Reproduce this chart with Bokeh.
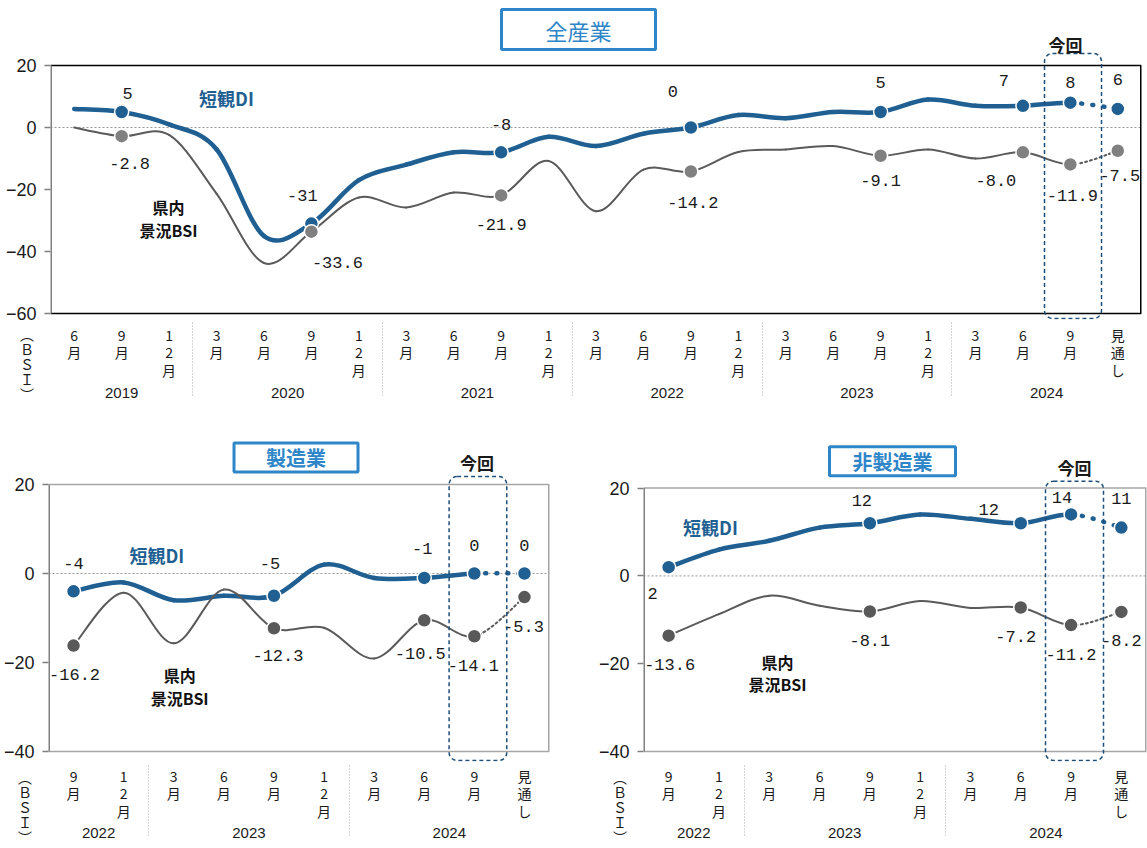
from bokeh.plotting import figure
from bokeh.models import (FactorRange, Range1d, FixedTicker, Label, LabelSet,
                          BoxAnnotation, ColumnDataSource, Div)
from bokeh.layouts import column, row
from bokeh.embed import file_html
from bokeh.resources import INLINE
from bokeh.core.properties import value

# ---------------- data ----------------
TOP_YEARS = ["2019"] * 3 + ["2020"] * 4 + ["2021"] * 4 + ["2022"] * 4 + ["2023"] * 4 + ["2024"] * 4
TOP_MONTHS = ["6月", "9月", "12月",
              "3月", "6月", "9月", "12月",
              "3月", "6月", "9月", "12月",
              "3月", "6月", "9月", "12月",
              "3月", "6月", "9月", "12月",
              "3月", "6月", "9月", "見通し"]
TOP_TANKAN = [6, 5, 1, -7, -35, -31, -17, -12, -8, -8, -3, -6, -2, 0, 4, 3, 5, 5, 9, 7, 7, 8, 6]
TOP_BSI = [0.0, -2.8, -2.4, -21.3, -43.7, -33.6, -22.6, -25.8, -21.0, -21.9, -10.8, -27.0,
           -13.6, -14.2, -7.9, -7.1, -6.0, -9.1, -7.1, -10.0, -8.0, -11.9, -7.5]
TOP_MARKED = [1, 5, 9, 13, 17, 20, 21, 22]

SUB_YEARS = ["2022"] * 2 + ["2023"] * 4 + ["2024"] * 4
SUB_MONTHS = ["9月", "12月", "3月", "6月", "9月", "12月", "3月", "6月", "9月", "見通し"]
MFG_TANKAN = [-4, -2, -6, -5, -5, 2, -1, -1, 0, 0]
MFG_BSI = [-16.2, -4.3, -15.7, -3.6, -12.3, -12.2, -19.1, -10.5, -14.1, -5.3]
NON_TANKAN = [2, 6, 8, 11, 12, 14, 13, 12, 14, 11]
NON_BSI = [-13.6, -8.7, -4.5, -6.8, -8.1, -5.7, -7.3, -7.2, -11.2, -8.2]
SUB_MARKED = [0, 4, 7, 8, 9]

TITLES = ["全産業", "製造業", "非製造業"]
NAME_TANKAN = "短観DI"
NAME_BSI = "県内\n景況BSI"
NOW_TEXT = "今回"
UNIT_TEXT = "（ＢＳＩ）"

# ---------------- styles / positions (page pixels) ----------------
BLUE = "#1F5F92"
TITLE_BLUE = "#2E86C8"
GRAY_LINE = "#5A5A5A"
BOX_COL = "#1F4E79"
TXT = "#1A1A1A"

# L,R,T,B: visible plot box; FB: bottom of the drawing area (room for the dashed box)
TOP_P = dict(ox=0, oy=0, w=1147, h=420, L=50, R=1141, T=65, B=313, FB=319, ylo=-60, yhi=20)
BL_P = dict(ox=0, oy=420, w=595, h=428, L=45, R=549, T=484, B=751, FB=761, ylo=-40, yhi=20)
BR_P = dict(ox=595, oy=420, w=552, h=428, L=643, R=1146, T=488, B=753, FB=763, ylo=-40, yhi=20)

TOP_T_OFF = ([6, -9, 0, -18, 0, -19, 0, 0], [-19, -28, -28, -36, -30, -25, -20, -29])
TOP_B_OFF = ([8, 26, 0, 2, 0, -27, 2, 2], [27, 31, 29, 31, 25, 28, 31, 25])
MFG_T_OFF = ([0, -4, -2, 0, 0], [-28, -32, -29, -28, -28])
MFG_B_OFF = ([1, 4, -4, -1, -1], [29, 27, 33, 29, 29])
NON_T_OFF = ([-16, -8, -32, -9, 0], [26, -23, -14, -17, -29])
NON_B_OFF = ([1, 0, -5, 0, 0], [29, 29, 29, 29, 29])

TOP_LOOK = dict(frame="#000000", xline="#000000", bsi_mark="#808080", xstand=5,
                title_xy=(578, 29), title_size="22px", title_style="normal", title_pad=(44, 4),
                now_xy=(1065, 44), box=(1044, 1101, 53, 318),
                tankan_xy=(226, 97), bsi_xy=(168, 218), unit_xy=(22, 361))
BL_LOOK = dict(frame="#A6A6A6", xline="#A6A6A6", bsi_mark="#595959", xstand=4,
               title_xy=(294, 457), title_size="20px", title_style="bold", title_pad=(32, 0),
               now_xy=(476, 462), box=(448, 506, 476, 760),
               tankan_xy=(154, 554), bsi_xy=(177, 686), unit_xy=(20, 804))
BR_LOOK = dict(frame="#A6A6A6", xline="#A6A6A6", bsi_mark="#595959", xstand=4,
               title_xy=(892, 461), title_size="20px", title_style="bold", title_pad=(23, 0),
               now_xy=(1074, 467), box=(1045, 1103, 481, 762),
               tankan_xy=(710, 527), bsi_xy=(777, 674), unit_xy=(615, 804))


def vert(s):
    return "\n".join(s)


def ppu(P):
    return (P["B"] - P["T"]) / (P["yhi"] - P["ylo"])


def to_x(P, X):
    return (X - P["L"]) / (P["R"] - P["L"]) * P["n"]


def to_y(P, Y):
    return P["yhi"] - (Y - P["T"]) / ppu(P)


def smooth(xs, ys):
    n = len(xs)
    seg = {k: [] for k in ("x0", "y0", "x1", "y1", "cx0", "cy0", "cx1", "cy1")}
    for i in range(n - 1):
        a, d = max(i - 1, 0), min(i + 2, n - 1)
        seg["x0"].append(xs[i]); seg["y0"].append(ys[i])
        seg["x1"].append(xs[i + 1]); seg["y1"].append(ys[i + 1])
        seg["cx0"].append(xs[i] + (xs[i + 1] - xs[a]) / 6)
        seg["cy0"].append(ys[i] + (ys[i + 1] - ys[a]) / 6)
        seg["cx1"].append(xs[i + 1] - (xs[d] - xs[i]) / 6)
        seg["cy1"].append(ys[i + 1] - (ys[d] - ys[i]) / 6)
    return seg


def draw_series(p, xs, ys, color, width, dot_dash):
    seg = smooth(xs, ys)
    solid = ColumnDataSource({k: v[:-1] for k, v in seg.items()})
    dotted = ColumnDataSource({k: v[-1:] for k, v in seg.items()})
    kw = dict(x0="x0", y0="y0", x1="x1", y1="y1", cx0="cx0", cy0="cy0", cx1="cx1", cy1="cy1")
    p.bezier(source=solid, line_color=color, line_width=width, line_cap="round", **kw)
    p.bezier(source=dotted, line_color=color, line_width=width, line_cap="round",
             line_dash=dot_dash, **kw)


def labels(p, xs, ys, texts, off):
    src = ColumnDataSource(dict(x=xs, y=ys, text=texts, xo=off[0], yo=[-d for d in off[1]]))
    p.add_layout(LabelSet(x="x", y="y", text="text", x_offset="xo", y_offset="yo", source=src,
                          text_align="center", text_baseline="middle",
                          text_font=value("Liberation Mono"), text_font_size="17px",
                          text_color=TXT))


def panel(P, years, months, tankan, bsi, marked, t_off, b_off, yticks, title, look):
    n = len(months)
    P = dict(P, n=n)
    k = ppu(P)
    y_end = P["yhi"] + (P["T"] - P["oy"]) / k
    y_start = P["ylo"] - (P["FB"] - P["B"]) / k
    factors = [(y, vert(m)) for y, m in zip(years, months)]
    p = figure(width=P["w"], height=P["h"],
               x_range=FactorRange(factors=factors, factor_padding=0, group_padding=0,
                                   range_padding=0),
               y_range=Range1d(y_start, y_end),
               output_backend="svg", toolbar_location=None, title=None,
               min_border_left=P["L"] - P["ox"], min_border_right=P["ox"] + P["w"] - P["R"],
               min_border_top=0, min_border_bottom=P["oy"] + P["h"] - P["FB"])
    p.xgrid.visible = False
    p.ygrid.visible = False
    p.outline_line_color = None
    p.background_fill_color = "white"
    p.border_fill_color = "white"

    ya = p.yaxis[0]
    ya.ticker = FixedTicker(ticks=yticks)
    ya.axis_line_color = None
    ya.major_tick_line_color = "#808080"
    ya.major_tick_line_width = 1.5
    ya.major_tick_out = 6
    ya.major_tick_in = 0
    ya.minor_tick_line_color = None
    ya.major_label_standoff = 8
    ya.major_label_text_font = "Liberation Sans"
    ya.major_label_text_font_size = "18px"
    ya.major_label_text_color = TXT

    xa = p.xaxis[0]
    xa.axis_line_color = None
    xa.major_tick_line_color = None
    xa.major_tick_out = 0
    xa.major_tick_in = 0
    xa.minor_tick_line_color = None
    xa.major_label_standoff = look["xstand"]
    xa.major_label_text_font = "Noto Sans CJK JP"
    xa.major_label_text_font_size = "14px"
    xa.major_label_text_line_height = 0.89
    xa.major_label_text_color = TXT
    xa.group_text_font = "Liberation Sans"
    xa.group_text_font_size = "15px"
    xa.group_text_font_style = "normal"
    xa.group_text_color = TXT
    xa.separator_line_color = "#A6A6A6"
    xa.separator_line_width = 1
    xa.separator_line_dash = "1 2"

    ylo, yhi = P["ylo"], P["yhi"]
    # plot box lines
    p.segment([0], [0], [n], [0], line_color="#999999", line_width=1, line_dash="2 2")
    p.segment([0], [yhi], [n], [yhi], line_color=look["frame"], line_width=1.5)
    p.segment([0], [ylo], [n], [ylo], line_color=look["xline"], line_width=1.5)
    p.segment([n], [ylo], [n], [yhi], line_color=look["frame"], line_width=3)
    p.segment([0], [ylo], [0], [yhi], line_color="#808080", line_width=3)

    xs = [i + 0.5 for i in range(n)]
    draw_series(p, xs, tankan, BLUE, 4.5, "1 10")
    draw_series(p, xs, bsi, GRAY_LINE, 2, "2 3")

    mx = [xs[i] for i in marked]
    ty = [tankan[i] for i in marked]
    by = [bsi[i] for i in marked]
    p.scatter(mx, ty, size=14, fill_color=BLUE, line_color="white", line_width=1.5)
    p.scatter(mx, by, size=14, fill_color=look["bsi_mark"], line_color="white", line_width=1.5)

    labels(p, mx, ty, [str(int(v)) for v in ty], t_off)
    labels(p, mx, by, [f"{v:.1f}" for v in by], b_off)

    # title box
    tx, tyy = look["title_xy"]
    p.add_layout(Label(x=to_x(P, tx), y=to_y(P, tyy), text=title, text_align="center",
                       text_baseline="middle", text_font="Noto Sans CJK JP",
                       text_font_size=look["title_size"], text_font_style=look["title_style"],
                       text_color=TITLE_BLUE, border_line_color=TITLE_BLUE, border_line_width=3,
                       background_fill_color="white", padding=look["title_pad"]))
    # 今回 box
    bx0, bx1, by0, by1 = look["box"]
    p.add_layout(BoxAnnotation(left=to_x(P, bx0), right=to_x(P, bx1), top=to_y(P, by0),
                               bottom=to_y(P, by1), fill_alpha=0, line_color=BOX_COL,
                               line_alpha=1, line_width=1.5, line_dash="4 3",
                               border_radius=8))
    nx, ny = look["now_xy"]
    p.add_layout(Label(x=to_x(P, nx), y=to_y(P, ny), text=NOW_TEXT, text_align="center",
                       text_baseline="middle", text_font="Noto Sans CJK JP",
                       text_font_size="17px", text_font_style="bold", text_color=TXT))
    # series names
    sx, sy = look["tankan_xy"]
    p.add_layout(Label(x=to_x(P, sx), y=to_y(P, sy), text=NAME_TANKAN, text_align="center",
                       text_baseline="middle", text_font="Noto Sans CJK JP",
                       text_font_size="18px", text_font_style="bold", text_color=BLUE))
    sx, sy = look["bsi_xy"]
    p.add_layout(Label(x=to_x(P, sx), y=to_y(P, sy), text=NAME_BSI, text_align="center",
                       text_baseline="middle", text_font="Noto Sans CJK JP",
                       text_font_size="16px", text_font_style="bold", text_color="#111111",
                       text_line_height=0.95))
    return p


def unit_div(look):
    ux, uy = look["unit_xy"]
    return Div(text=UNIT_TEXT, width=22, height=76,
               styles={"position": "absolute", "left": f"{ux - 11}px", "top": f"{uy - 38}px",
                       "writing-mode": "vertical-rl", "text-orientation": "upright",
                       "font-family": "'Noto Sans CJK JP'", "font-size": "14px",
                       "letter-spacing": "1px", "line-height": "22px",
                       "color": TXT, "z-index": "10"})


top = panel(TOP_P, TOP_YEARS, TOP_MONTHS, TOP_TANKAN, TOP_BSI, TOP_MARKED,
            TOP_T_OFF, TOP_B_OFF, [-60, -40, -20, 0, 20], TITLES[0], TOP_LOOK)
bl = panel(BL_P, SUB_YEARS, SUB_MONTHS, MFG_TANKAN, MFG_BSI, SUB_MARKED,
           MFG_T_OFF, MFG_B_OFF, [-40, -20, 0, 20], TITLES[1], BL_LOOK)
br = panel(BR_P, SUB_YEARS, SUB_MONTHS, NON_TANKAN, NON_BSI, SUB_MARKED,
           NON_T_OFF, NON_B_OFF, [-40, -20, 0, 20], TITLES[2], BR_LOOK)

layout = column(top, row(bl, br), unit_div(TOP_LOOK), unit_div(BL_LOOK), unit_div(BR_LOOK))

open("out.html", "w").write(file_html(layout, INLINE))
